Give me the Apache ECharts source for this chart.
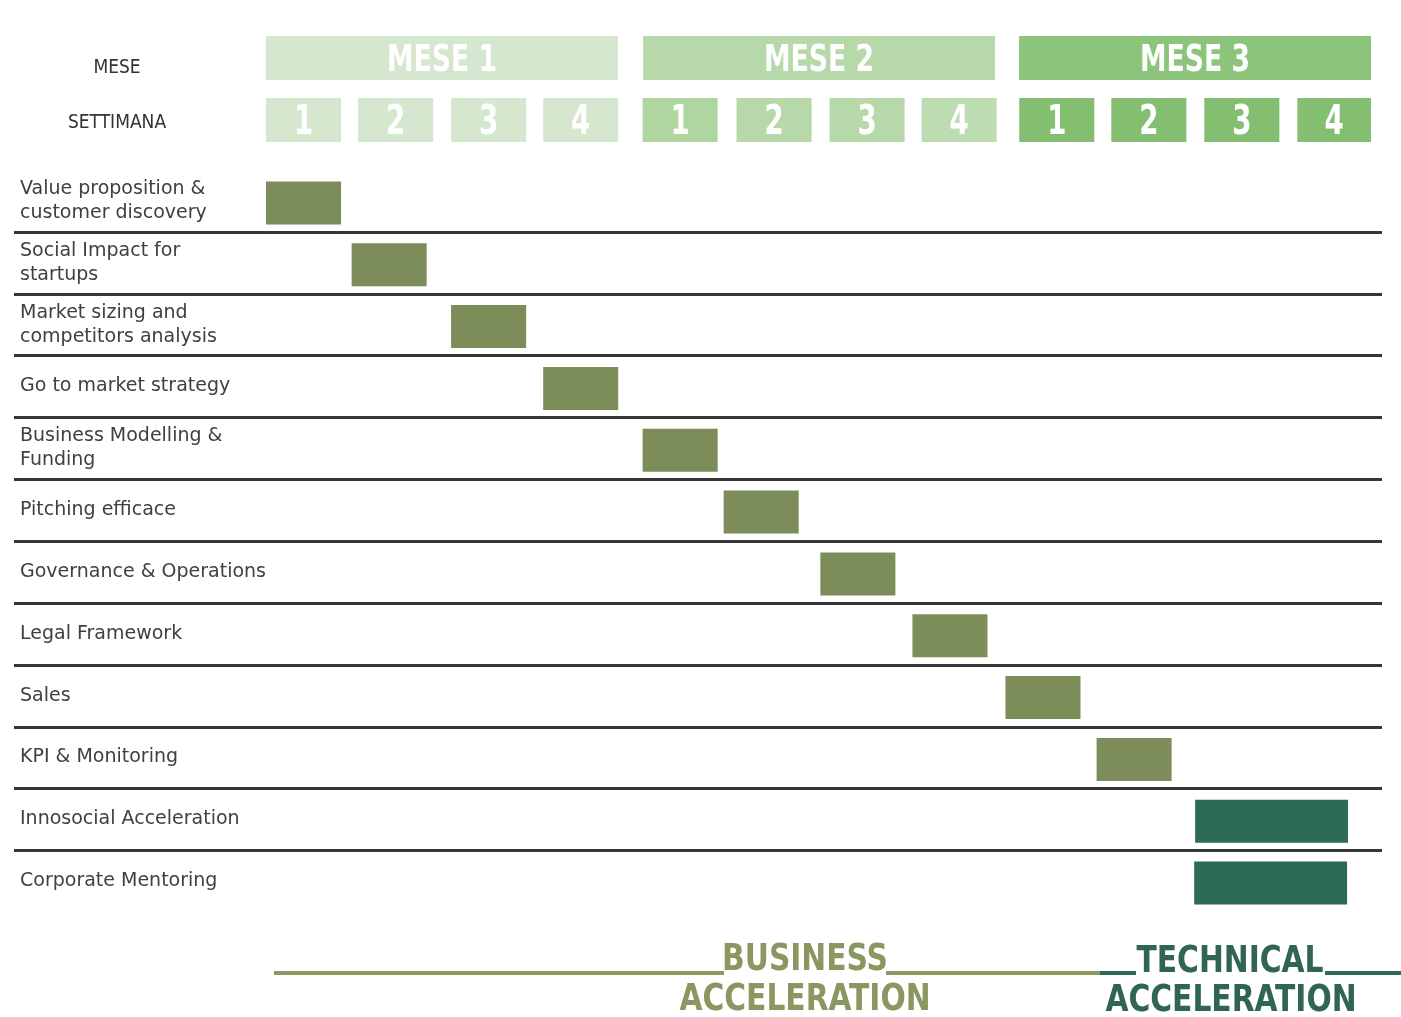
<!DOCTYPE html>
<html>
<head>
<meta charset="utf-8">
<script src="https://cdn.jsdelivr.net/npm/echarts@6/dist/echarts.min.js"></script>
<style>
html,body{margin:0;padding:0;background:#fff;}
#main{width:1401px;height:1017px;}
</style>
</head>
<body>
<div id="main"></div>
<script>
// ---- data ----
const headerRows = ['MESE', 'SETTIMANA'];
const months = ['MESE 1', 'MESE 2', 'MESE 3'];
const monthStart = [0, 4.095, 8.178];
const monthEnd = [3.823, 7.917, 12.0];
const monthColors = ['#d5e8cf', '#b7d9a9', '#8dc47c'];
const weekLabels = ['1','2','3','4','1','2','3','4','1','2','3','4'];
const weekStart = [0, 1.0, 2.01, 3.01, 4.09, 5.11, 6.12, 7.12, 8.18, 9.18, 10.19, 11.2];
const weekEnd = [0.815, 1.815, 2.825, 3.825, 4.905, 5.925, 6.935, 7.935, 8.995, 9.995, 11.005, 12.0];
const weekColors = ['#d5e8cf','#d5e8cf','#d5e8cf','#d5e8cf','#b0d6a0','#b7d9a9','#b7d9a9','#bedcb1','#84bf71','#84bf71','#84bf71','#84bf71'];

const tasks = [
  'Value proposition &\ncustomer discovery',
  'Social Impact for\nstartups',
  'Market sizing and\ncompetitors analysis',
  'Go to market strategy',
  'Business Modelling &\nFunding',
  'Pitching efficace',
  'Governance & Operations',
  'Legal Framework',
  'Sales',
  'KPI & Monitoring',
  'Innosocial Acceleration',
  'Corporate Mentoring'
];
const taskStart = [0, 0.93, 2.01, 3.01, 4.09, 4.97, 6.02, 7.02, 8.03, 9.02, 10.09, 10.08];
const taskEnd   = [0.815, 1.745, 2.825, 3.825, 4.905, 5.785, 6.835, 7.835, 8.845, 9.835, 11.75, 11.74];
const taskPhase = ['B','B','B','B','B','B','B','B','B','B','T','T'];
const phaseColors = { B: '#7c8d5a', T: '#2b6b57' };

const condensed = '"DejaVu Sans Condensed", "Liberation Sans Narrow", sans-serif';

const chart = echarts.init(document.getElementById('main'), null, { renderer: 'canvas' });

function boxWithText(params, api, h, font, sx) {
  const s = api.value(0), e = api.value(1), r = api.value(2);
  const p0 = api.coord([s, r]);
  const p1 = api.coord([e, r]);
  return {
    type: 'group',
    children: [
      { type: 'rect', shape: { x: p0[0], y: p0[1] - h / 2, width: p1[0] - p0[0], height: h },
        style: { fill: api.value(4) } },
      { type: 'text', x: (p0[0] + p1[0]) / 2, y: p0[1] + 3, scaleX: sx,
        style: { text: api.value(3), fill: '#ffffff', font: font, align: 'center', verticalAlign: 'middle' } }
    ]
  };
}

function bigText(txt, x, y, color) {
  return { type: 'text', x: x, y: y, scaleX: 0.87,
    style: { text: txt, fill: color, font: 'bold 38px ' + condensed, align: 'center', verticalAlign: 'middle' } };
}

const option = {
  animation: false,
  backgroundColor: '#ffffff',
  grid: [
    { left: 266, right: 30, top: 27, height: 124 },
    { left: 266, right: 30, top: 170, height: 742 }
  ],
  xAxis: [
    { gridIndex: 0, type: 'value', min: 0, max: 12, show: false },
    { gridIndex: 1, type: 'value', min: 0, max: 12, show: false }
  ],
  yAxis: [
    { gridIndex: 0, type: 'category', data: headerRows, inverse: true,
      axisLine: { show: false }, axisTick: { show: false }, splitLine: { show: false },
      axisLabel: { align: 'center', margin: 149,
        formatter: (v, i) => (i === 0 ? '{a|' + v + '}' : '{b|' + v + '}'),
        rich: {
          a: { color: '#333', fontSize: 19, fontFamily: condensed, padding: [20, 0, 0, 0] },
          b: { color: '#333', fontSize: 19, fontFamily: condensed, padding: [6, 0, 0, 0] }
        } } },
    { gridIndex: 1, type: 'category', data: tasks, inverse: true,
      axisLine: { show: false }, axisTick: { show: false }, splitLine: { show: false },
      axisLabel: { align: 'left', margin: 246, color: '#404040', fontSize: 19, lineHeight: 24,
        fontFamily: '"DejaVu Sans", "Noto Sans", sans-serif' } }
  ],
  series: [
    {
      type: 'custom', xAxisIndex: 0, yAxisIndex: 0,
      renderItem: (p, api) => boxWithText(p, api, 44, 'bold 38px ' + condensed, 0.78),
      data: months.map((m, i) => [monthStart[i], monthEnd[i], 0, m, monthColors[i]])
    },
    {
      type: 'custom', xAxisIndex: 0, yAxisIndex: 0,
      renderItem: (p, api) => boxWithText(p, api, 44, 'bold 41px ' + condensed, 0.75),
      data: weekLabels.map((w, i) => [weekStart[i], weekEnd[i], 1, w, weekColors[i]])
    },
    {
      type: 'custom', xAxisIndex: 1, yAxisIndex: 1,
      renderItem: (params, api) => {
        const r = api.value(0);
        const c = api.coord([0, r]);
        const band = api.size([0, 1])[1];
        const y = Math.round(c[1] + band / 2) + 0.5;
        const cs = params.coordSys;
        return { type: 'line', shape: { x1: cs.x - 252, y1: y, x2: cs.x + cs.width + 11, y2: y },
          style: { stroke: '#353535', lineWidth: 3 } };
      },
      data: tasks.slice(0, tasks.length - 1).map((t, i) => [i]),
      z: 1
    },
    {
      type: 'custom', xAxisIndex: 1, yAxisIndex: 1,
      renderItem: (params, api) => {
        const s = api.value(0), e = api.value(1), r = api.value(2);
        const p0 = api.coord([s, r]);
        const p1 = api.coord([e, r]);
        const h = 43;
        return { type: 'rect', shape: { x: p0[0], y: p0[1] - h / 2 + 2, width: p1[0] - p0[0], height: h },
          style: { fill: phaseColors[taskPhase[params.dataIndex]] } };
      },
      data: tasks.map((t, i) => [taskStart[i], taskEnd[i], i]),
      z: 2
    }
  ],
  graphic: [
    { type: 'line', shape: { x1: 274, y1: 973, x2: 724, y2: 973 }, style: { stroke: '#8d9b63', lineWidth: 4 } },
    { type: 'line', shape: { x1: 886, y1: 973, x2: 1100, y2: 973 }, style: { stroke: '#8d9b63', lineWidth: 4 } },
    { type: 'line', shape: { x1: 1100, y1: 973, x2: 1136, y2: 973 }, style: { stroke: '#2f6a56', lineWidth: 4 } },
    { type: 'line', shape: { x1: 1325, y1: 973, x2: 1401, y2: 973 }, style: { stroke: '#2f6a56', lineWidth: 4 } },
    bigText('BUSINESS', 805, 960, '#8a9760'),
    bigText('ACCELERATION', 805, 1000, '#8a9760'),
    bigText('TECHNICAL', 1230, 962, '#2f6552'),
    bigText('ACCELERATION', 1231, 1001, '#2f6552')
  ]
};
chart.setOption(option);
</script>
</body>
</html>
